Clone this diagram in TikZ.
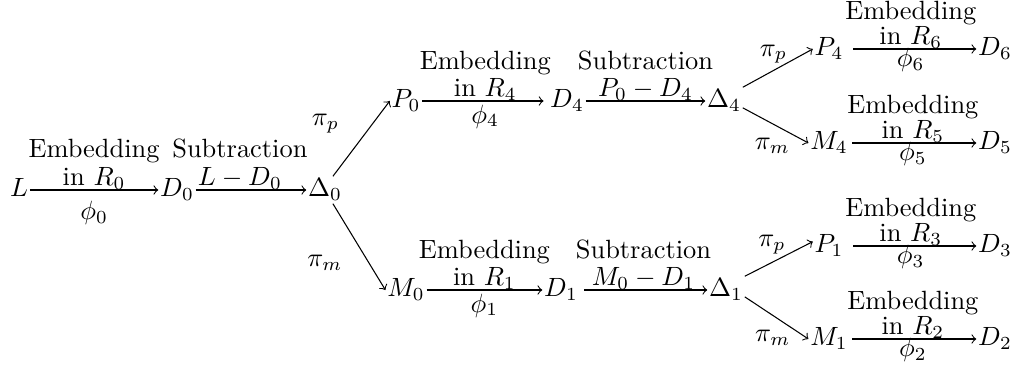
\documentclass[tikz,border=0pt]{standalone}
\usepackage{amsmath}
\usetikzlibrary{positioning}
\begin{document}
\begin{tikzpicture}[x=0.3788pt, y=-0.3788pt]
\tikzset{
  obj/.style={inner sep=0.5pt, text height=7pt, text depth=2pt},
  arr/.style={->},
  lbl/.style={inner sep=0pt},
  upA/.style={lbl, align=center, font=\fontsize{10}{10.6}\selectfont},
  upB/.style={lbl, align=center, font=\fontsize{10}{10.2}\selectfont},
  upC/.style={lbl, align=center, font=\fontsize{10}{9.3}\selectfont}
}
\useasboundingbox (0,0) rectangle (1013,367);
% ---- first stage
\node[obj] (L)   at (19,190)  {$L$};
\node[obj] (D0)  at (177,190) {$D_0$};
\node[obj] (Dt0) at (325,190) {$\Delta_0$};
% ---- second stage
\node[obj] (P0)  at (406,101) {$P_0$};
\node[obj] (D4)  at (567,101) {$D_4$};
\node[obj] (Dt4) at (724,101) {$\Delta_4$};
\node[obj] (M0)  at (406,290) {$M_0$};
\node[obj] (D1)  at (561,290) {$D_1$};
\node[obj] (Dt1) at (726,290) {$\Delta_1$};
% ---- third stage
\node[obj] (P4) at (829,49)  {$P_4$};
\node[obj] (D6) at (995,49)  {$D_6$};
\node[obj] (M4) at (829,143) {$M_4$};
\node[obj] (D5) at (995,143) {$D_5$};
\node[obj] (P1) at (829,246) {$P_1$};
\node[obj] (D3) at (995,246) {$D_3$};
\node[obj] (M1) at (829,339) {$M_1$};
\node[obj] (D2) at (995,339) {$D_2$};
% ---- arrows
\draw[arr] (L) -- node[upA,above=0pt]{Embedding\\in $R_0$} node[lbl,below=4pt]{$\phi_0$} (D0);
\draw[arr] (D0) -- node[upA,above=0pt,pos=0.4]{Subtraction\\$L-D_0$} (Dt0);
\draw[arr] (Dt0.60) -- node[lbl,pos=0.7,left=12.5pt]{$\pi_p$} (P0.west);
\draw[arr] (Dt0.-60) -- node[lbl,pos=0.68,left=9.7pt]{$\pi_m$} (M0.west);
\draw[arr,shorten >=1.8pt] (P0) -- node[upB,above=0pt]{Embedding\\in $R_4$} node[lbl,below=1.2pt]{$\phi_4$} (D4);
\draw[arr] (D4) -- node[upB,above=0pt]{Subtraction\\$P_0-D_4$} (Dt4);
\draw[arr] (M0) -- node[upB,above=0pt]{Embedding\\in $R_1$} node[lbl,below=1.2pt]{$\phi_1$} (D1);
\draw[arr,shorten <=1.8pt] (D1) -- node[upB,above=0pt]{Subtraction\\$M_0-D_1$} (Dt1);
\draw[arr] (Dt4.north east) -- node[lbl,pos=0.44,above=2.4pt]{$\pi_p$} (P4.west);
\draw[arr] (Dt4.-20) -- node[lbl,pos=0.45,below=5.2pt]{$\pi_m$} (M4.west);
\draw[arr] (Dt1.north east) -- node[lbl,pos=0.4,above=3pt]{$\pi_p$} (P1.165);
\draw[arr] (Dt1.-20) -- node[lbl,pos=0.44,below=5.3pt]{$\pi_m$} (M1.west);
\draw[arr,shorten <=3pt] (P4) -- node[upC,above=0pt]{Embedding\\in $R_6$} node[lbl,below=-0.5pt]{$\phi_6$} (D6);
\draw[arr,shorten <=1pt] (M4) -- node[upC,above=0pt]{Embedding\\in $R_5$} node[lbl,below=-0.5pt]{$\phi_5$} (D5);
\draw[arr,shorten <=3pt] (P1) -- node[upC,above=0pt]{Embedding\\in $R_3$} node[lbl,below=-0.5pt]{$\phi_3$} (D3);
\draw[arr,shorten <=1pt] (M1) -- node[upC,above=0pt]{Embedding\\in $R_2$} node[lbl,below=-0.5pt]{$\phi_2$} (D2);
\end{tikzpicture}
\end{document}
